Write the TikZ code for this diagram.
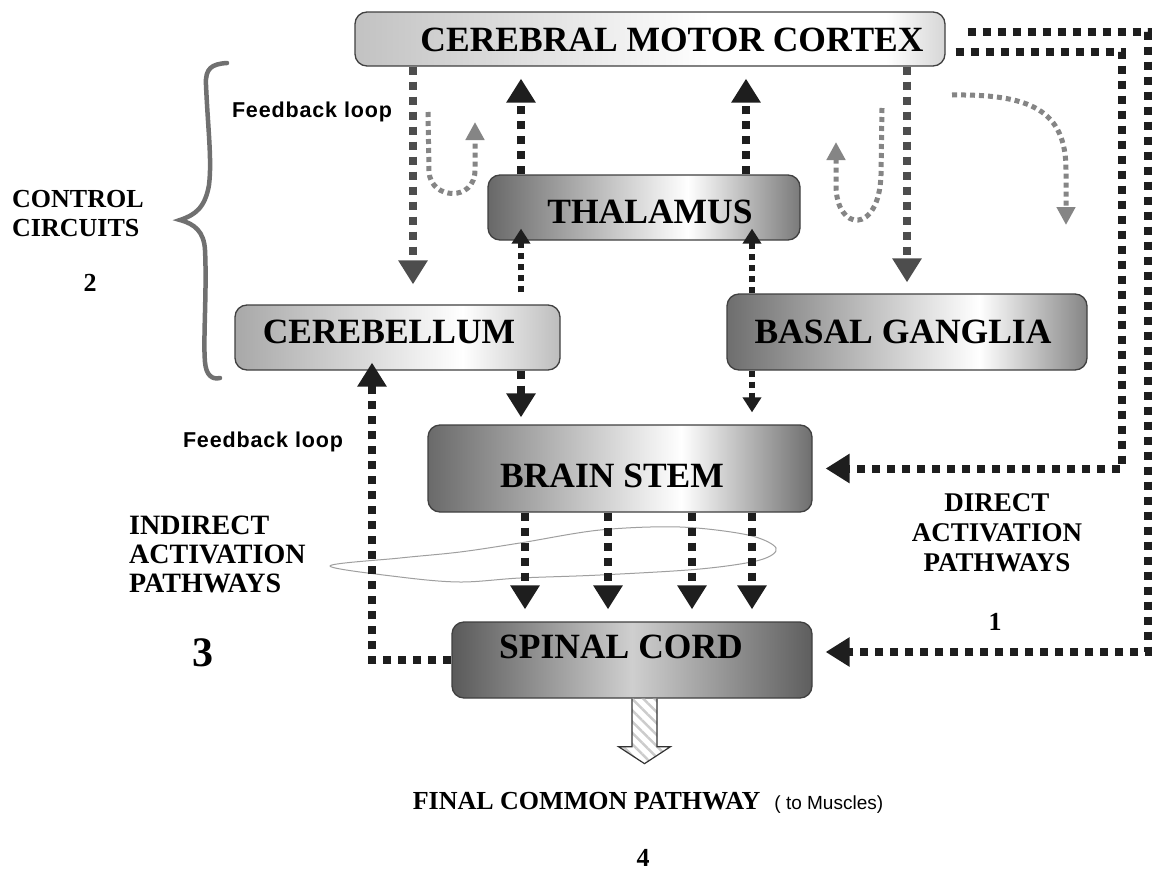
\documentclass[tikz,border=0pt]{standalone}
\usepackage{fontspec}
\setmainfont{Liberation Serif}
\newfontfamily\arialfont{Liberation Sans}
\newfontfamily\arialwide{Liberation Sans}[LetterSpace=4]
\usetikzlibrary{arrows.meta,calc,patterns.meta}
\definecolor{cxL}{HTML}{C2C2C2}
\definecolor{cxR}{HTML}{D6D6D6}
\definecolor{ceL}{HTML}{A8A8A8}
\definecolor{ceR}{HTML}{BDBDBD}
\definecolor{thL}{HTML}{686868}
\definecolor{thR}{HTML}{7A7A7A}
\definecolor{baL}{HTML}{6E6E6E}
\definecolor{baR}{HTML}{858585}
\definecolor{bsL}{HTML}{6A6A6A}
\definecolor{bsR}{HTML}{6E6E6E}
\definecolor{spL}{HTML}{5A5A5A}
\definecolor{spM}{HTML}{CFCFCF}
\definecolor{spR}{HTML}{5E5E5E}
\definecolor{arrowblack}{HTML}{1E1E1E}
\definecolor{arrowgray}{HTML}{4D4D4D}
\definecolor{loopgray}{HTML}{858585}
\definecolor{bracegray}{HTML}{707070}
\pgfdeclarehorizontalshading{cortexsh}{100bp}{color(0bp)=(cxL); color(25bp)=(cxL); color(55bp)=(white); color(70bp)=(white); color(75bp)=(cxR); color(100bp)=(cxR)}
\pgfdeclarehorizontalshading{cerebsh}{100bp}{color(0bp)=(ceL); color(25bp)=(ceL); color(60bp)=(white); color(75bp)=(ceR); color(100bp)=(ceR)}
\pgfdeclarehorizontalshading{thalsh}{100bp}{color(0bp)=(thL); color(25bp)=(thL); color(57bp)=(white); color(75bp)=(thR); color(100bp)=(thR)}
\pgfdeclarehorizontalshading{basalsh}{100bp}{color(0bp)=(baL); color(25bp)=(baL); color(60bp)=(white); color(75bp)=(baR); color(100bp)=(baR)}
\pgfdeclarehorizontalshading{bstemsh}{100bp}{color(0bp)=(bsL); color(25bp)=(bsL); color(58bp)=(white); color(75bp)=(bsR); color(100bp)=(bsR)}
\pgfdeclarehorizontalshading{spinalsh}{100bp}{color(0bp)=(spL); color(25bp)=(spL); color(50bp)=(spM); color(75bp)=(spR); color(100bp)=(spR)}
\newcommand{\boxfont}{\fontsize{35.5}{40}\selectfont\bfseries}
\newcommand{\lblfont}{\fontsize{26}{29}\selectfont\bfseries}
\begin{document}
\begin{tikzpicture}[x=1pt,y=-1pt,
  box/.style={rounded corners=12pt, draw=black!75, line width=1.3pt, inner sep=0pt, shade},
  lbl/.style={font=\lblfont, inner sep=0pt},
  fbtext/.style={font=\fontsize{21.5}{24}\selectfont\arialwide\bfseries, inner sep=0pt},
  blkarrow/.style={draw=arrowblack, line width=8pt, dash pattern=on 8pt off 7pt, -{Triangle[width=28pt,length=24pt]}},
  grayarrow/.style={draw=arrowgray, line width=8pt, dash pattern=on 8pt off 7pt, -{Triangle[width=28pt,length=24pt]}},
  thinarrow/.style={draw=arrowblack, line width=6pt, dash pattern=on 6pt off 5pt, -{Triangle[width=18pt,length=15pt]}},
  looparrow/.style={draw=loopgray, line width=5pt, dash pattern=on 5pt off 4pt, -{Triangle[width=18pt,length=18pt]}},
]
\useasboundingbox (0,0) rectangle (1157,870);
\fill[white] (0,0) rectangle (1157,870);

% boxes
\node[box, shading=cortexsh, minimum width=590pt, minimum height=54pt,
  label={[font=\boxfont, xshift=22pt, yshift=-1pt]center:CEREBRAL MOTOR CORTEX}] (cortex) at (650,39) {};
\node[box, shading=thalsh, minimum width=312pt, minimum height=65pt,
  label={[font=\boxfont, xshift=6pt, yshift=-4.5pt]center:THALAMUS}] (thal) at (644,207.5) {};
\node[box, shading=cerebsh, minimum width=325pt, minimum height=65pt,
  label={[font=\boxfont, xshift=-8.5pt, yshift=5.5pt]center:CEREBELLUM}] (cereb) at (397.5,337.5) {};
\node[box, shading=basalsh, minimum width=360pt, minimum height=76pt,
  label={[font=\boxfont, xshift=-4pt]center:BASAL GANGLIA}] (basal) at (907,332) {};
\node[box, shading=bstemsh, minimum width=384pt, minimum height=87pt,
  label={[font=\boxfont, xshift=-8pt, yshift=-7.5pt]center:BRAIN STEM}] (bstem) at (620,468.5) {};
\node[box, shading=spinalsh, minimum width=360pt, minimum height=76pt,
  label={[font=\boxfont, xshift=-11pt, yshift=13pt]center:SPINAL CORD}] (spinal) at (632,660) {};

% x positions
\coordinate (xA) at (413,0);
\coordinate (xB) at (521,0);
\coordinate (xC) at (746,0);
\coordinate (xC2) at (752,0);
\coordinate (xD) at (907,0);
\coordinate (xE) at (372,0);
\coordinate (xF) at (1122,0);
\coordinate (xG) at (1148,0);
\coordinate (x1) at (525,0);
\coordinate (x2) at (608,0);
\coordinate (x3) at (692,0);
\coordinate (x4) at (752,0);

% lasso
\draw[gray!75, line width=1pt] plot[smooth cycle, tension=0.55] coordinates {(330,566) (400,558) (460,552) (520,543) (600,530) (680,527) (748,535) (776,548) (760,560) (700,569) (600,575) (520,578) (460,582) (400,577)};

% connectors
\draw[grayarrow, shorten >=20pt] (cortex.south -| xA) -- (cereb.north -| xA);
\draw[blkarrow, shorten >=12pt] (thal.north -| xB) -- (cortex.south -| xB);
\draw[blkarrow, shorten >=12pt] (thal.north -| xC) -- (cortex.south -| xC);
\draw[grayarrow, shorten >=11pt] (cortex.south -| xD) -- (basal.north -| xD);
\draw[thinarrow, shorten <=12pt, shorten >=-12pt] (cereb.north -| xB) -- (thal.south -| xB);
\draw[thinarrow, shorten >=-12pt] (basal.north -| xC2) -- (thal.south -| xC2);
\draw[blkarrow, shorten >=7pt] (cereb.south -| xB) -- (bstem.north -| xB);
\draw[thinarrow, shorten >=12pt] (basal.south -| xC2) -- (bstem.north -| xC2);
\foreach \k in {x1,x2,x3,x4}
  \draw[blkarrow, shorten >=12pt] (bstem.south -| \k) -- (spinal.north -| \k);
\draw[blkarrow, shorten >=-8pt] (spinal.west) -| (xE |- cereb.south);
\coordinate (bsE) at (bstem.east);
\coordinate (spE) at ($(spinal.east)+(0,-8)$);
\draw[blkarrow, shorten >=13pt] ($(cortex.east)+(10,13)$) -| (xF |- bsE) -- (bsE);
\draw[blkarrow, shorten >=13pt] ($(cortex.east)+(22,-7)$) -| (xG |- spE) -- (spE);

% feedback loop curves
\draw[looparrow] (428,112) -- (429,172) .. controls (431,200) and (475,202) .. (475,170) -- (475,122);
\draw[looparrow] (882,108) -- (881,175) .. controls (879,235) and (836,232) .. (836,185) -- (836,142);
\draw[looparrow] (952,95) .. controls (1030,94) and (1066,110) .. (1066,170) -- (1066,225);

% brace
\draw[bracegray, line width=4.5pt, line cap=round] (227,63) .. controls (212,64) and (205,68) .. (206,85) .. controls (208,130) and (212,160) .. (209,185) .. controls (205,208) and (195,215) .. (180,220) .. controls (195,224) and (204,232) .. (205,250) .. controls (207,290) and (203,340) .. (205,362) .. controls (206,375) and (212,380) .. (220,378);

% final common pathway block arrow
\coordinate (fa) at ($(spinal.south)+(12.5,0)$);
\draw[black!80, line width=1.2pt, pattern={Lines[angle=-45, distance=8pt, line width=2.5pt]}, pattern color=gray!40]
  ($(fa)+(-12.5,0)$) -- ($(fa)+(-12.5,48)$) -- ($(fa)+(-26,48)$) -- ($(fa)+(0,65)$) -- ($(fa)+(26,48)$) -- ($(fa)+(12.5,48)$) -- ($(fa)+(12.5,0)$);

% texts
\node[fbtext] (fb1) at (312,112) {Feedback loop};
\node[fbtext] (fb2) at (263,442) {Feedback loop};
\node[lbl, anchor=west, align=left] (cc) at (12,214) {CONTROL\\CIRCUITS};
\node[lbl] (n2) at (90,283) {2};
\node[lbl, anchor=west, align=left, font=\fontsize{28}{29}\selectfont\bfseries] (iap) at (129,554) {INDIRECT\\ACTIVATION\\PATHWAYS};
\node[lbl, font=\fontsize{42}{44}\selectfont\bfseries] (n3) at (203,653) {3};
\node[lbl, align=center, font=\fontsize{27}{30}\selectfont\bfseries] (dap) at (997,533) {DIRECT\\ACTIVATION\\PATHWAYS};
\node[lbl] (n1) at (995,622) {1};
\node[lbl] (fcp) at (648,803) {FINAL COMMON PATHWAY\hspace{14pt}{\arialfont\mdseries\fontsize{19}{22}\selectfont( to Muscles)}};
\node[lbl] (n4) at (643,858) {4};
\end{tikzpicture}
\end{document}
